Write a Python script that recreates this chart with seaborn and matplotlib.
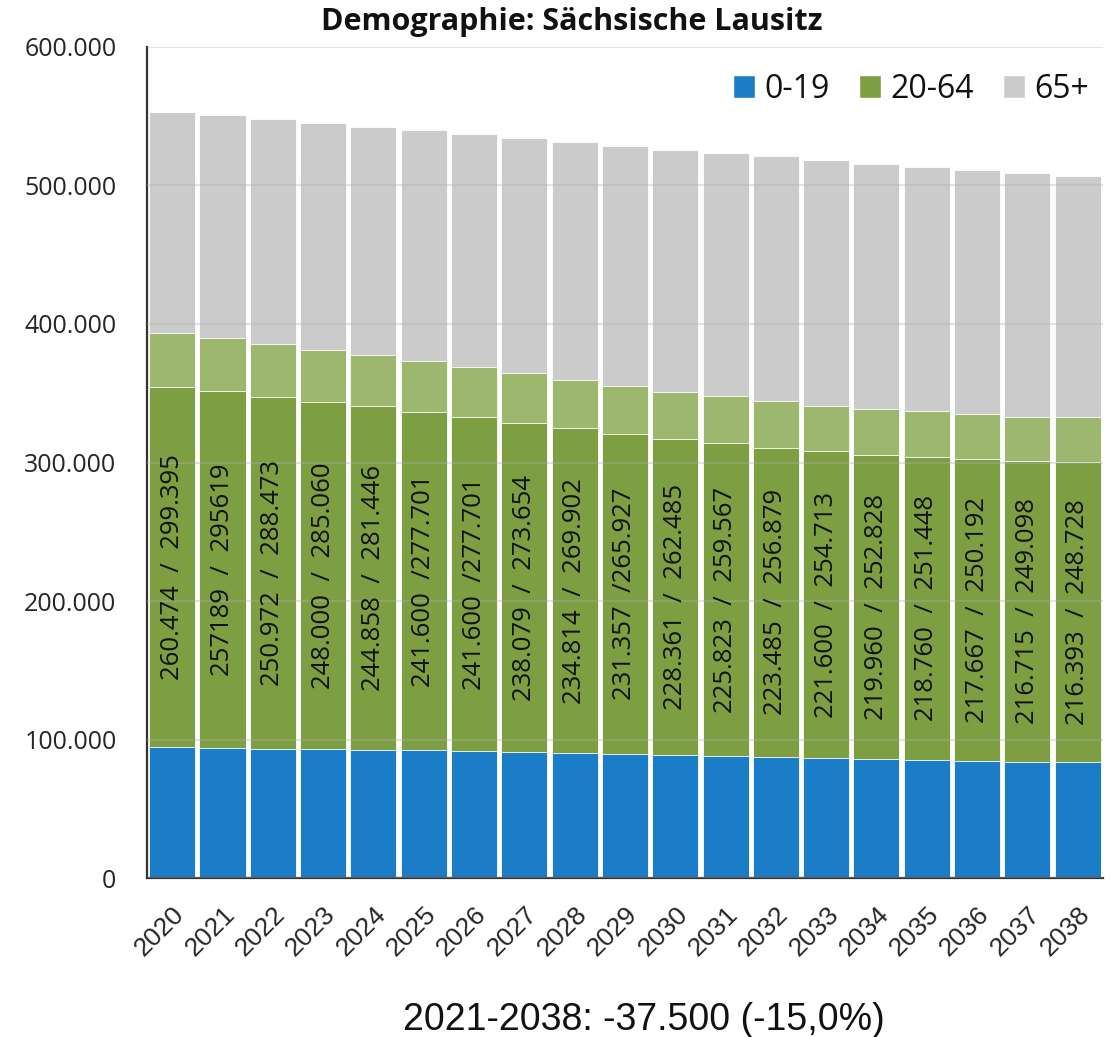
import matplotlib
matplotlib.use("Agg")
import matplotlib.pyplot as plt
import matplotlib.ticker as mticker
from matplotlib.patches import Patch
import seaborn as sns

years = ["2020", "2021", "2022", "2023", "2024", "2025", "2026", "2027", "2028", "2029",
         "2030", "2031", "2032", "2033", "2034", "2035", "2036", "2037", "2038"]
pop_0_19 = [94300, 94100, 93400, 93100, 92600, 92400, 91400, 90700, 90000, 89200,
            88500, 88200, 87300, 86400, 85700, 85500, 84800, 84100, 83800]
pop_20_64_dark = [260474, 257189, 254000, 250700, 248200, 244200, 241600, 238079, 234814, 231357,
                  228361, 225823, 223485, 221600, 219960, 218760, 217667, 216715, 216393]
pop_20_64 = [299395, 295619, 291900, 288300, 285000, 281100, 277701, 273654, 269902, 265927,
             262485, 259567, 256879, 254713, 252828, 251448, 250192, 249098, 248728]
pop_65 = [159600, 160900, 162400, 163700, 164900, 166300, 167800, 169650, 171500, 173400,
          174800, 175700, 177000, 177100, 177000, 176700, 176200, 175800, 174600]
bar_labels = ["260.474  /  299.395", "257189  /  295619", "250.972  /  288.473",
              "248.000  /  285.060", "244.858  /  281.446", "241.600  /277.701",
              "241.600  /277.701", "238.079  /  273.654", "234.814  /  269.902",
              "231.357  /265.927", "228.361  /  262.485", "225.823  /  259.567",
              "223.485  /  256.879", "221.600  /  254.713", "219.960  /  252.828",
              "218.760  /  251.448", "217.667  /  250.192", "216.715  /  249.098",
              "216.393  /  248.728"]
legend_names = ["0-19", "20-64", "65+"]

c_blue = "#1b7dc7"
c_green = "#7d9e41"
c_green_light = "#9db76f"
c_grey = "#cbcbcb"

sns.set_style("white")
plt.rcParams["font.family"] = ["Open Sans", "DejaVu Sans"]
plt.rcParams["text.color"] = "#111111"

# cumulative tops for the overlapping (stacked) bars
top_blue = pop_0_19
top_dark = [a + b for a, b in zip(pop_0_19, pop_20_64_dark)]
top_light = [a + b for a, b in zip(pop_0_19, pop_20_64)]
top_total = [a + b for a, b in zip(top_light, pop_65)]

fig = plt.figure(figsize=(11.14, 10.37), dpi=100)
ax = fig.add_axes([0.132, 0.1533, 0.858, 0.8014])

for tops, col in [(top_total, c_grey), (top_light, c_green_light),
                  (top_dark, c_green), (top_blue, c_blue)]:
    sns.barplot(x=years, y=tops, color=col, saturation=1, width=0.915,
                edgecolor="white", linewidth=0.6, ax=ax)

for i, lab in enumerate(bar_labels):
    mid = pop_0_19[i] + pop_20_64_dark[i] / 2
    ax.text(i, mid, lab, rotation=90, ha="center", va="center", fontsize=18.5)

ax.set_ylim(0, 600000)
ax.set_xlim(-0.5, len(years) - 0.5)
ax.yaxis.set_major_locator(mticker.MultipleLocator(100000))
ax.yaxis.set_major_formatter(mticker.FuncFormatter(lambda v, p: f"{int(v):,}".replace(",", ".")))
ax.set_axisbelow(False)
ax.yaxis.grid(True, color="#b0b0b0", alpha=0.35, linewidth=1.5)
ax.xaxis.grid(False)

for s in ["top", "right"]:
    ax.spines[s].set_visible(False)
for s in ["left", "bottom"]:
    ax.spines[s].set_color("#333333")
    ax.spines[s].set_linewidth(1.6)

ax.tick_params(axis="y", direction="in", length=6, width=1.5, color="#333333",
               labelsize=18, pad=22)
ax.tick_params(axis="x", length=0, labelsize=19, pad=17)
ax.set_xticks(range(len(years)))
ax.set_xticklabels(years, rotation=45, ha="right", rotation_mode="anchor")
for t in ax.get_xticklabels():
    t.set_fontfamily(["Liberation Sans", "DejaVu Sans"])
ax.set_xticks([i + 0.5 for i in range(len(years) - 1)], minor=True)
ax.tick_params(axis="x", which="minor", direction="in", length=3, width=1, color="#333333")
ax.set_xlabel("")
ax.set_ylabel("")

handles = [Patch(facecolor=c) for c in [c_blue, c_green, c_grey]]
fig.legend(handles, legend_names, loc="center right", bbox_to_anchor=(0.978, 0.914),
           ncol=3, frameon=False, fontsize=23, handlelength=0.7, handleheight=0.7,
           handletextpad=0.3, columnspacing=0.9, borderpad=0, borderaxespad=0)

fig.text(0.513, 0.979, "Demographie: Sächsische Lausitz", ha="center", va="center",
         fontsize=22, fontweight="bold")
fig.text(0.578, 0.016, "2021-2038: -37.500 (-15,0%)", ha="center", va="center",
         fontsize=27, family=["Liberation Sans", "DejaVu Sans"])

fig.savefig("out.png", dpi=100)
